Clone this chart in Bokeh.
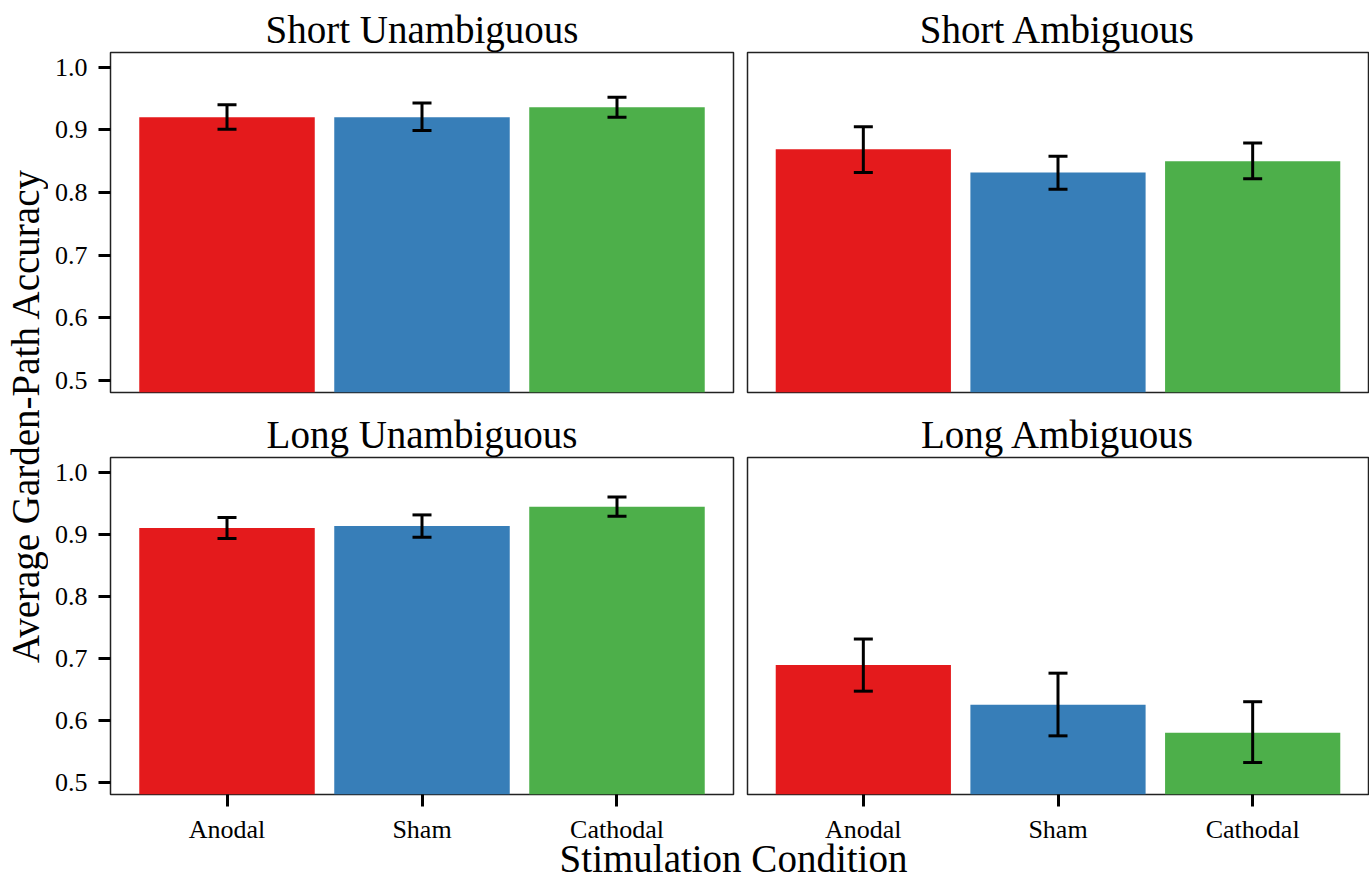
from math import pi
from bokeh.plotting import figure
from bokeh.models import ColumnDataSource, FactorRange, Range1d, FixedTicker, PrintfTickFormatter, Whisker, TeeHead
from bokeh.layouts import row, column
from bokeh.core.properties import value
from bokeh.embed import file_html
from bokeh.resources import INLINE

conditions = ["Anodal", "Sham", "Cathodal"]
colors = ["#E41A1C", "#377EB8", "#4DAF4A"]

short_unamb_mean = [0.920, 0.920, 0.936]
short_unamb_lower = [0.901, 0.899, 0.920]
short_unamb_upper = [0.940, 0.943, 0.952]

short_amb_mean = [0.869, 0.832, 0.850]
short_amb_lower = [0.832, 0.805, 0.822]
short_amb_upper = [0.905, 0.858, 0.879]

long_unamb_mean = [0.910, 0.913, 0.944]
long_unamb_lower = [0.893, 0.895, 0.929]
long_unamb_upper = [0.927, 0.931, 0.960]

long_amb_mean = [0.689, 0.625, 0.580]
long_amb_lower = [0.647, 0.575, 0.532]
long_amb_upper = [0.731, 0.676, 0.630]

y_ticks = [0.5, 0.6, 0.7, 0.8, 0.9, 1.0]
FONT = "Liberation Serif"


def panel(title, mean, lower, upper, width, height, bl, br, bt, bb, show_x, show_y, pad):
    src = ColumnDataSource(dict(cond=conditions, mean=mean, lower=lower, upper=upper, color=colors))
    p = figure(x_range=FactorRange(factors=conditions, range_padding=pad, range_padding_units="absolute"),
               y_range=Range1d(0.4805, 1.0235),
               width=width, height=height, min_border_left=bl, min_border_right=br,
               min_border_top=bt, min_border_bottom=bb,
               output_backend="svg", toolbar_location=None, title=title)
    p.vbar(x="cond", top="mean", bottom=0, width=0.9, color="color", line_color=None, source=src)
    w = Whisker(base="cond", lower="lower", upper="upper", source=src, line_width=3, line_color="black",
                level="overlay",
                upper_head=TeeHead(size=19, line_width=3, line_color="black"),
                lower_head=TeeHead(size=19, line_width=3, line_color="black"))
    p.add_layout(w)
    p.title.align = "center"
    p.title.text_font = FONT
    p.title.text_font_size = "39px"
    p.title.text_font_style = "normal"
    p.title.text_color = "black"
    p.title.standoff = 3
    p.xgrid.visible = False
    p.ygrid.visible = False
    p.outline_line_color = "#222222"
    p.outline_line_width = 1.5
    p.background_fill_color = "white"
    p.border_fill_color = "white"
    for ax in (p.xaxis[0], p.yaxis[0]):
        ax.axis_line_color = None
        ax.major_tick_line_color = "black"
        ax.major_tick_line_width = 3
        ax.major_tick_out = 12
        ax.major_tick_in = 0
        ax.minor_tick_line_color = None
        ax.major_label_text_font = FONT
        ax.major_label_text_font_size = "26px"
        ax.major_label_text_color = "black"
    p.yaxis.major_label_standoff = 11
    p.xaxis.major_label_standoff = 8
    p.yaxis.ticker = FixedTicker(ticks=y_ticks)
    p.yaxis.formatter = PrintfTickFormatter(format="%.1f")
    p.xaxis.visible = show_x
    p.yaxis.visible = show_y
    return p


tl = panel("Short Unambiguous", short_unamb_mean, short_unamb_lower, short_unamb_upper,
           692, 395, 62, 7, 52, 3, False, True, 0.0975)
tr = panel("Short Ambiguous", short_amb_mean, short_amb_lower, short_amb_upper,
           629, 395, 7, 1, 52, 3, False, False, 0.095)
bl = panel("Long Unambiguous", long_unamb_mean, long_unamb_lower, long_unamb_upper,
           692, 451, 62, 7, 62, 50, True, True, 0.0975)
br = panel("Long Ambiguous", long_amb_mean, long_amb_lower, long_amb_upper,
           629, 451, 7, 1, 62, 50, True, False, 0.095)


def label_fig(w, h):
    f = figure(width=w, height=h, x_range=Range1d(0, w), y_range=Range1d(0, h),
               min_border=0, output_backend="svg", toolbar_location=None)
    f.axis.visible = False
    f.grid.visible = False
    f.outline_line_color = None
    f.background_fill_color = None
    f.border_fill_color = None
    return f


ylab = label_fig(48, 846)
ylab.text(x=[25], y=[431], text=["Average Garden-Path Accuracy"], angle=pi / 2,
          text_align="center", text_baseline="middle",
          text_font=value(FONT), text_font_size="39px", text_color="black")

xlab = label_fig(1369, 50)
xlab.margin = (-16, 0, 0, 0)
xlab.text(x=[733], y=[22], text=["Stimulation Condition"],
          text_align="center", text_baseline="middle",
          text_font=value(FONT), text_font_size="39px", text_color="black")

grid = column(row(tl, tr), row(bl, br))
layout = column(row(ylab, grid), xlab)

open("out.html", "w").write(file_html(layout, INLINE))
